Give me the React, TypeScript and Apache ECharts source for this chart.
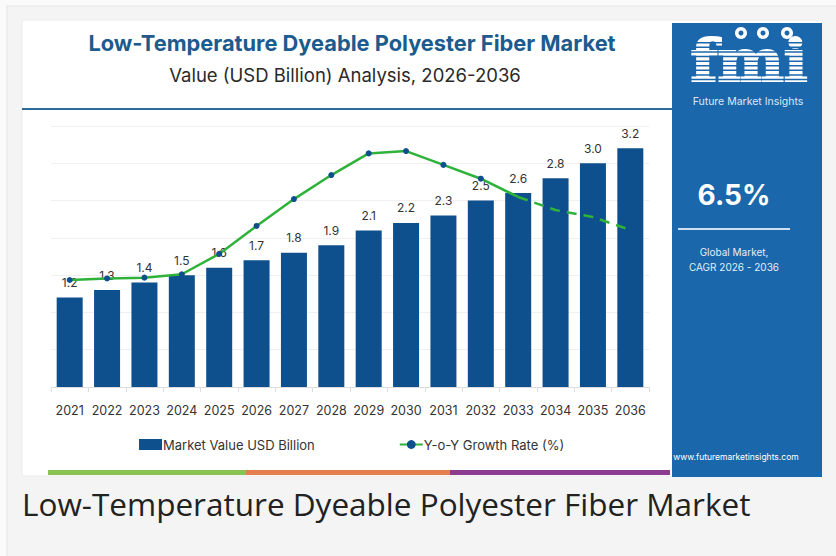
import React, { useEffect, useRef } from "react";
import * as echarts from "echarts";

const years = ["2021","2022","2023","2024","2025","2026","2027","2028","2029","2030","2031","2032","2033","2034","2035","2036"];
const marketValue = [1.2,1.3,1.4,1.5,1.6,1.7,1.8,1.9,2.1,2.2,2.3,2.5,2.6,2.8,3.0,3.2];
// Y-o-Y growth rate (%) (secondary, hidden axis)
const growthActual = [4.1,4.16,4.19,4.32,5.1,6.17,7.2,8.12,8.95,9.04,8.51,7.98,7.28];
const growthForecast = [7.28,6.78,6.51,6.02];

const BAR = "#0e4f8d";
const GREEN = "#2fb23a";
const PANEL = "#1b67ab";
const FONT = "Inter, 'Noto Sans', sans-serif";

export default function App() {
  const ref = useRef<HTMLDivElement>(null);
  useEffect(() => {
    if (!ref.current) return;
    const chart = echarts.init(ref.current, undefined, { renderer: "svg" });

    const solidData: any[] = years.map((_, i) => {
      if (i < growthActual.length - 1) return growthActual[i];
      if (i === growthActual.length - 1) return { value: growthActual[i], symbol: "none" };
      return "-";
    });
    const startF = years.length - growthForecast.length;
    const dashData: any[] = years.map((_, i) => (i >= startF ? growthForecast[i - startF] : "-"));

    const stripes: any[] = [];
    for (let k = 0; k < 9; k++) {
      stripes.push({
        type: "rect",
        shape: { x: 688, y: 42 + k * 4.6, width: 124, height: 1.5 },
        style: { fill: PANEL },
        z: 12,
      });
    }

    chart.setOption({
      animation: false,
      backgroundColor: "#fafafa",
      textStyle: { fontFamily: FONT },
      graphic: [
        { type: "rect", shape: { x: 7, y: 6, width: 840, height: 560 }, style: { fill: "#f4f4f4", stroke: "#e4e4e4", lineWidth: 1 }, z: -10, silent: true },
        { type: "rect", shape: { x: 22, y: 20, width: 800, height: 456 }, style: { fill: "#ffffff", stroke: "#ececec", lineWidth: 1 }, z: -9, silent: true },
        { type: "rect", shape: { x: 672, y: 23, width: 150, height: 454 }, style: { fill: PANEL }, z: 10, silent: true },
        { type: "text", x: 352, y: 43, style: { text: "Low-Temperature Dyeable Polyester Fiber Market", fill: "#1b5b8d", font: `bold 21.8px ${FONT}`, textAlign: "center", textVerticalAlign: "middle" }, z: 10 },
        { type: "text", x: 345, y: 75, style: { text: "Value (USD Billion) Analysis, 2026-2036", fill: "#2a2a2a", font: `18.5px ${FONT}`, textAlign: "center", textVerticalAlign: "middle" }, z: 10 },
        { type: "line", shape: { x1: 22, y1: 109, x2: 672, y2: 109 }, style: { stroke: "#2d6b9d", lineWidth: 2 }, z: 10 },
        // fmi logo
        { type: "text", x: 749, y: 61, scaleX: 1.1, style: { text: "fmi", fill: "#ffffff", stroke: "#ffffff", lineWidth: 2, font: "bold 57px 'DejaVu Serif', serif", textAlign: "center", textVerticalAlign: "middle" }, z: 11 },
        ...stripes,
        { type: "circle", shape: { cx: 741, cy: 33, r: 6 }, style: { fill: "#ffffff" }, z: 13 },
        { type: "circle", shape: { cx: 763, cy: 33, r: 6 }, style: { fill: "#ffffff" }, z: 13 },
        { type: "circle", shape: { cx: 787, cy: 33, r: 6 }, style: { fill: "#ffffff" }, z: 13 },
        { type: "circle", shape: { cx: 741, cy: 33, r: 2.5 }, style: { fill: PANEL }, z: 14 },
        { type: "circle", shape: { cx: 763, cy: 33, r: 2.5 }, style: { fill: PANEL }, z: 14 },
        { type: "circle", shape: { cx: 787, cy: 33, r: 2.5 }, style: { fill: PANEL }, z: 14 },
        { type: "text", x: 748, y: 101, style: { text: "Future Market Insights", fill: "#dbe7f4", font: `10.5px ${FONT}`, textAlign: "center", textVerticalAlign: "middle" }, z: 11 },
        { type: "text", x: 734, y: 195, style: { text: "6.5%", fill: "#ffffff", font: `bold 28px ${FONT}`, textAlign: "center", textVerticalAlign: "middle" }, z: 11 },
        { type: "line", shape: { x1: 678, y1: 229, x2: 790, y2: 229 }, style: { stroke: "#cfe0f2", lineWidth: 2 }, z: 11 },
        { type: "text", x: 734, y: 252, style: { text: "Global Market,", fill: "#e3edf7", font: `10px ${FONT}`, textAlign: "center", textVerticalAlign: "middle" }, z: 11 },
        { type: "text", x: 734, y: 267, style: { text: "CAGR 2026 - 2036", fill: "#e3edf7", font: `10px ${FONT}`, textAlign: "center", textVerticalAlign: "middle" }, z: 11 },
        { type: "text", x: 736, y: 457, style: { text: "www.futuremarketinsights.com", fill: "#ffffff", font: `8.5px ${FONT}`, textAlign: "center", textVerticalAlign: "middle" }, z: 11 },
        // bottom stripe
        { type: "rect", shape: { x: 48, y: 470, width: 198, height: 5 }, style: { fill: "#8cc153" }, z: 10 },
        { type: "rect", shape: { x: 246, y: 470, width: 204, height: 5 }, style: { fill: "#e57f4f" }, z: 10 },
        { type: "rect", shape: { x: 450, y: 470, width: 220, height: 5 }, style: { fill: "#8d3b91" }, z: 10 },
        // caption
        { type: "text", x: 22, y: 503, style: { text: "Low-Temperature Dyeable Polyester Fiber Market", fill: "#222222", font: "31.5px 'Open Sans', sans-serif", textAlign: "left", textVerticalAlign: "middle" }, z: 10 },
      ],
      legend: {
        data: [
          { name: "Market Value USD Billion", icon: "rect" },
          { name: "Y-o-Y Growth Rate (%)" },
        ],
        left: 134,
        top: 433,
        itemWidth: 23,
        itemHeight: 11,
        itemGap: 84,
        textStyle: { fontSize: 13, color: "#333", fontFamily: FONT, padding: [0, 0, 0, -4] },
      },
      grid: { left: 51, right: 187, top: 126, bottom: 169, containLabel: false },
      xAxis: {
        type: "category",
        data: years,
        axisLine: { lineStyle: { color: "#dddddd" } },
        axisTick: { show: true, lineStyle: { color: "#dddddd" } },
        axisLabel: { color: "#333", fontSize: 12.5, margin: 17, fontFamily: FONT, interval: 0 },
      },
      yAxis: [
        {
          type: "value",
          min: 0,
          max: 3.5,
          interval: 0.5,
          axisLabel: { show: false },
          axisLine: { show: false },
          axisTick: { show: false },
          splitLine: { lineStyle: { color: "#f0f0f0" } },
        },
        {
          type: "value",
          min: 0,
          max: 10,
          show: false,
          splitLine: { show: false },
        },
      ],
      series: [
        {
          name: "Market Value USD Billion",
          type: "bar",
          data: marketValue,
          barWidth: 26,
          itemStyle: { color: BAR },
          label: {
            show: true,
            position: "top",
            distance: 9,
            color: "#333",
            fontSize: 12,
            fontFamily: FONT,
            formatter: (p: any) => Number(p.value).toFixed(1),
          },
          z: 2,
        },
        {
          name: "Y-o-Y Growth Rate (%)",
          type: "line",
          yAxisIndex: 1,
          data: solidData,
          symbol: "circle",
          symbolSize: 6,
          itemStyle: { color: BAR },
          lineStyle: { color: GREEN, width: 2.5 },
          z: 5,
        },
        {
          name: "forecast",
          type: "line",
          yAxisIndex: 1,
          data: dashData,
          symbol: "none",
          lineStyle: { color: GREEN, width: 2.5, type: [10, 7] },
          z: 5,
        },
      ],
    });
    return () => chart.dispose();
  }, []);
  return <div ref={ref} style={{ position: "fixed", left: 0, top: 0, width: 836, height: 556 }} />;
}
